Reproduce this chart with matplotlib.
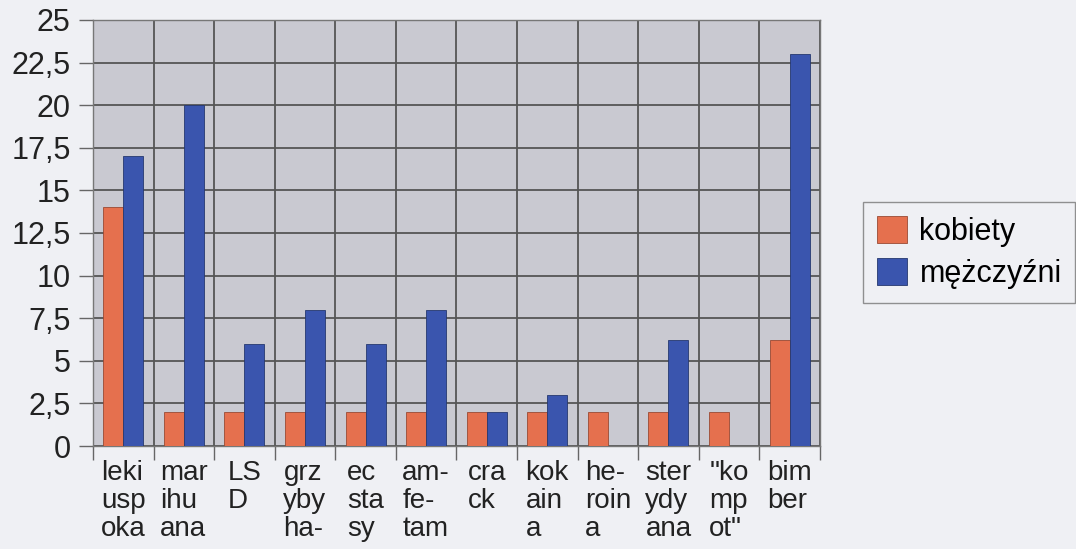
import matplotlib.pyplot as plt
import numpy as np

plt.rcParams['font.family'] = ['Liberation Sans', 'DejaVu Sans']

# dane
kategorie = ["leki\nusp\noka", "mar\nihu\nana", "LS\nD", "grz\nyby\nha-", "ec\nsta\nsy",
             "am-\nfe-\ntam", "cra\nck", "kok\nain\na", "he-\nroin\na", "ster\nydy\nana",
             "\"ko\nmp\not\"", "bim\nber"]
kobiety = [14, 2, 2, 2, 2, 2, 2, 2, 2, 2, 2, 6.2]
mezczyzni = [17, 20, 6, 8, 6, 8, 2, 3, 0, 6.2, 0, 23]
serie = ["kobiety", "mężczyźni"]
y_ticks = [0, 2.5, 5, 7.5, 10, 12.5, 15, 17.5, 20, 22.5, 25]
y_labels = ["0", "2,5", "5", "7,5", "10", "12,5", "15", "17,5", "20", "22,5", "25"]

kolor_k = "#e5704e"
kolor_m = "#3a55ae"
tlo = "#eff0f4"

fig = plt.figure(figsize=(10.76, 5.49), dpi=100, facecolor=tlo)
ax = fig.add_axes([0.0864, 0.1876, 0.6756, 0.776])
ax.set_facecolor("#c9c9d1")

x = np.arange(len(kategorie))
w = 0.33
ax.bar(x - w / 2, kobiety, w, color=kolor_k, edgecolor="#9a4a34", linewidth=0.6, label=serie[0], zorder=3)
ax.bar(x + w / 2, mezczyzni, w, color=kolor_m, edgecolor="#26386f", linewidth=0.6, label=serie[1], zorder=3)

ax.set_xlim(-0.5, len(kategorie) - 0.5)
ax.set_ylim(0, 25)

ax.set_yticks(y_ticks)
ax.set_yticklabels(y_labels, fontsize=22, color="#222222")
ax.tick_params(axis="y", length=10, width=1, color="#666666", pad=6)
ax.yaxis.grid(True, color="#555555", linewidth=1.3, zorder=1)

ax.set_xticks(x)
ax.set_xticklabels(kategorie, fontsize=20, color="#222222", linespacing=1.1,
                   multialignment="left", va="top")
ax.tick_params(axis="x", which="major", length=0, pad=10)
ax.set_xticks(np.arange(len(kategorie) + 1) - 0.5, minor=True)
ax.tick_params(axis="x", which="minor", length=10, width=1, color="#666666")
ax.xaxis.grid(True, which="minor", color="#555555", linewidth=1.3, zorder=1)
ax.set_axisbelow(True)

for s in ax.spines.values():
    s.set_color("#777777")
    s.set_linewidth(1)

leg = fig.legend(loc="upper left", bbox_to_anchor=(0.802, 0.632), fontsize=22,
                 frameon=True, fancybox=False, handlelength=1.0, handleheight=1.0,
                 handletextpad=0.4, borderpad=0.45, labelspacing=0.35, borderaxespad=0)
leg.get_frame().set_edgecolor("#777777")
leg.get_frame().set_facecolor(tlo)
leg.get_frame().set_linewidth(1)

fig.savefig("out.png", dpi=100, facecolor=tlo)
